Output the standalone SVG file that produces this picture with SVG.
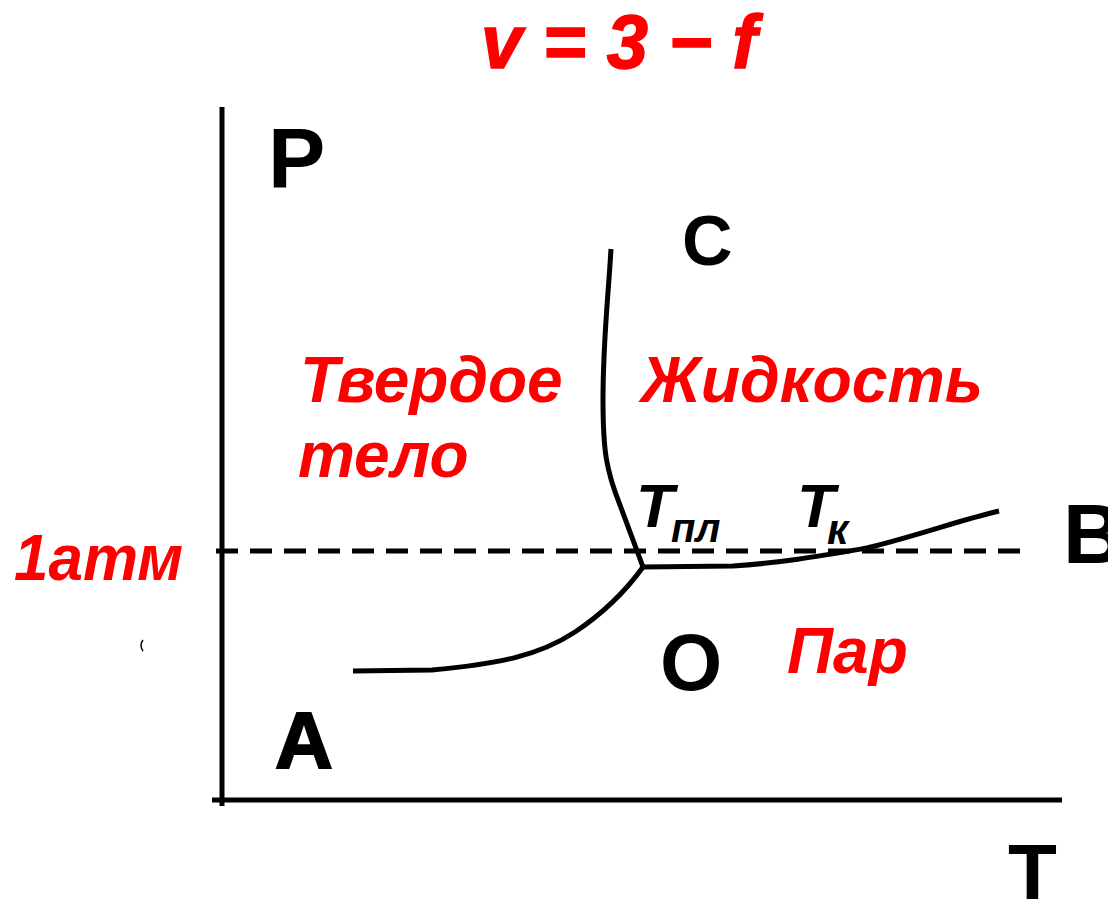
<svg xmlns="http://www.w3.org/2000/svg" width="1108" height="899" viewBox="0 0 1108 899">
<style>
.red{fill:#ff0000;font-family:"Liberation Sans",Arial,sans-serif;font-weight:bold;font-style:italic}
.lbl{fill:#000;font-family:"Liberation Sans",Arial,sans-serif;font-weight:bold}
.sub{fill:#000;font-family:"Liberation Sans",Arial,sans-serif;font-weight:bold;font-style:italic}
.ax{stroke:#000;stroke-width:5;fill:none}
.cv{stroke:#000;stroke-width:5;fill:none;stroke-linejoin:round}
</style>
<rect width="1108" height="899" fill="#fff"/>
<g id="title"><text class="red" x="481" y="68" font-size="76" textLength="276" lengthAdjust="spacingAndGlyphs" stroke="#ff0000" stroke-width="1.5">v = 3 − f</text></g>
<g id="axes">
<line class="ax" x1="222" y1="107" x2="222" y2="806"/>
<line class="ax" x1="212" y1="800" x2="1062" y2="800"/>
<line x1="216" y1="551" x2="1020" y2="551" stroke="#000" stroke-width="5" stroke-dasharray="22 12"/>
</g>
<g id="connectors">
<path class="cv" d="M611,249 C608,300 603,340 603,400 C603,450 606,470 620,505 L643,567"/>
<path class="cv" d="M353,671 L432,670 C500,664 540,655 575,632 C605,612 625,592 643,567"/>
<path class="cv" d="M643,567 L733,566 C780,563 820,556 867,548 C920,535 960,520 999,511"/>
</g>
<g id="label-P"><text class="lbl" x="268" y="188" font-size="86">P</text></g>
<g id="label-C"><text class="lbl" x="682" y="265" font-size="70">C</text></g>
<g id="label-A"><text class="lbl" x="275" y="768" font-size="80" font-weight="normal" stroke="#000" stroke-width="2">A</text></g>
<g id="label-O"><text class="lbl" x="660" y="690" font-size="80">O</text></g>
<g id="label-B"><text class="lbl" x="1063" y="563" font-size="84">B</text></g>
<g id="label-T"><text class="lbl" x="1008" y="900" font-size="80">T</text></g>
<g id="solid"><text class="red" x="300" y="402" font-size="64">Твердое</text><text class="red" x="298" y="477" font-size="64">тело</text></g>
<g id="liquid"><text class="red" x="641" y="402" font-size="64" textLength="342" lengthAdjust="spacingAndGlyphs">Жидкость</text></g>
<g id="vapor"><text class="red" x="787" y="673" font-size="64">Пар</text></g>
<g id="atm"><text class="red" x="14" y="580" font-size="64" textLength="169" lengthAdjust="spacingAndGlyphs">1атм</text></g>
<g id="tpl"><text class="sub" x="636" y="527" font-size="62">T</text><text class="sub" x="671" y="542" font-size="40">пл</text></g>
<g id="tk"><text class="sub" x="797" y="527" font-size="62">T</text><text class="sub" x="827" y="544" font-size="42">к</text></g>
<path d="M143,640 Q139,645 143,651" stroke="#000" stroke-width="1.5" fill="none"/>
</svg>
